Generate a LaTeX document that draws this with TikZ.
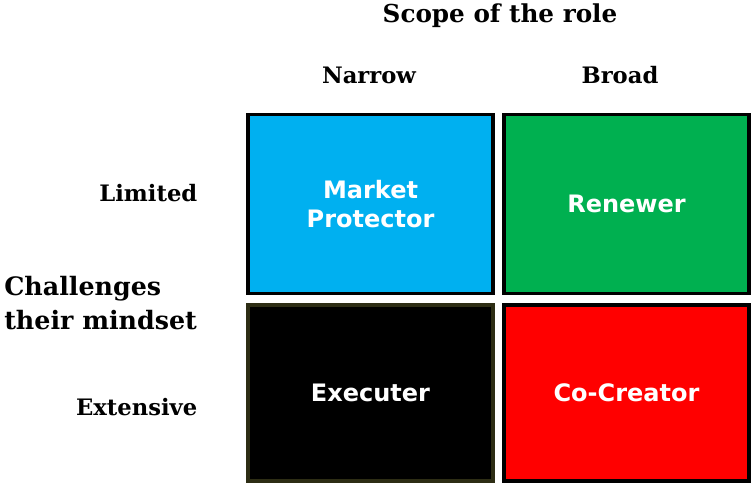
\documentclass[tikz,border=0pt]{standalone}
\usepackage{fontspec}
\setmainfont{DejaVu Serif}
\newfontfamily\boxfont{DejaVu Sans}
\definecolor{mpblue}{RGB}{0,176,240}
\definecolor{rngreen}{RGB}{0,176,80}
\definecolor{ccred}{RGB}{255,0,0}
\definecolor{exedge}{RGB}{45,45,20}
\tikzset{
    quad/.style={draw=black, line width=2.6pt, minimum width=184pt, align=center,
        text=white, font=\boxfont\bfseries\fontsize{18}{22}\selectfont},
    upper/.style={minimum height=134pt},
    lower/.style={minimum height=132pt},
    lbl/.style={font=\bfseries\fontsize{17}{20}\selectfont}
}
\begin{document}
\begin{tikzpicture}[x=0.75pt,y=-0.75pt]
        \useasboundingbox (0,0) rectangle (752,483);

        \node[quad,upper,fill=mpblue] (protector) at (370.5,204) {Market\\Protector};
        \node[quad,upper,fill=rngreen] (renewer) at (626.5,204) {Renewer};
        \node[quad,lower,fill=black,draw=exedge] (executer) at (370.5,393) {Executer};
        \node[quad,lower,fill=ccred] (cocreator) at (626.5,393) {Co-Creator};

        \node[font=\bfseries\fontsize{18.5}{22}\selectfont] (scope) at (500,16) {Scope of the role};
        \node[lbl] (narrow) at (369,75) {Narrow};
        \node[lbl] (broad) at (620,75) {Broad};

        \node[lbl,anchor=east] (limited) at (202,193) {Limited};
        \node[lbl,anchor=east] (extensive) at (202,407) {Extensive};
        \node[anchor=west,align=left,inner sep=0pt,
            font=\bfseries\fontsize{19}{25}\selectfont] (mindset) at (4,303) {Challenges\\their mindset};
    \end{tikzpicture}
\end{document}
